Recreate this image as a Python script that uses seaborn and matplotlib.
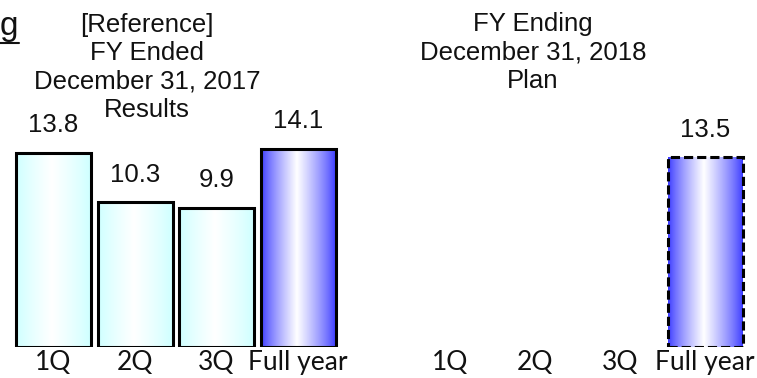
import numpy as np
import pandas as pd
import matplotlib
matplotlib.use("Agg")
import matplotlib.pyplot as plt
from matplotlib.lines import Line2D
import seaborn as sns

# Quarterly figures
categories = ["1Q", "2Q", "3Q", "Full year"]
results_2017 = [13.8, 10.3, 9.9, 14.1]
plan_2018 = [np.nan, np.nan, np.nan, 13.5]

title_2017 = ["[Reference]", "FY Ended", "December 31, 2017", "Results"]
title_2018 = ["FY Ending", "December 31, 2018", "Plan"]

sns.set_style("white")
TEXT_SIZE = 18.5
plt.rcParams["font.family"] = ["Liberation Sans", "DejaVu Sans"]

W, H = 757, 378
fig = plt.figure(figsize=(W / 100, H / 100), dpi=100)

CYAN = np.array([0.80, 1.0, 1.0])
BLUE = np.array([0.22, 0.22, 1.0])
WHITE = np.array([1.0, 1.0, 1.0])


def px_axes(left, bottom, width, height):
    return fig.add_axes([left / W, bottom / H, width / W, height / H])


def gradient_fill(ax, patch, edge_rgb, mid=0.48):
    x0, y0 = patch.get_x(), patch.get_y()
    w, h = patch.get_width(), patch.get_height()
    t = np.linspace(0, 1, 256)
    frac = np.where(t < mid, t / mid, (1 - t) / (1 - mid)) ** 0.8
    cols = edge_rgb[None, :] * (1 - frac[:, None]) + WHITE[None, :] * frac[:, None]
    im = ax.imshow(cols[None, :, :], extent=(x0, x0 + w, y0, y0 + h),
                   aspect="auto", interpolation="bilinear", zorder=1)
    im.set_clip_path(patch)
    patch.set_facecolor("none")
    patch.set_zorder(2)


def draw_panel(ax, values, spacing_px, dashed_last=False):
    df = pd.DataFrame({"period": categories, "value": values})
    bar_w = 75 / spacing_px
    sns.barplot(data=df, x="period", y="value", order=categories, ax=ax,
                width=bar_w, color="white", edgecolor="black", linewidth=2.2,
                errorbar=None)
    bars = [p for p in ax.patches if np.isfinite(p.get_height()) and p.get_height() > 0]
    for p in bars:
        cx = p.get_x() + p.get_width() / 2
        v = p.get_height()
        is_year = abs(cx - 3) < 0.01
        gradient_fill(ax, p, BLUE if is_year else CYAN)
        if dashed_last and is_year:
            p.set_linestyle((0, (3, 1.3)))
        ax.annotate(f"{v:.1f}", (cx, v), xytext=(0, 20), textcoords="offset points",
                    ha="center", va="center", fontsize=TEXT_SIZE, color="#111111")
    ax.set_xlim(-0.5, 3.5)
    ax.set_ylim(0, 20)
    ax.set_xlabel("")
    ax.set_ylabel("")
    ax.set_yticks([])
    ax.tick_params(axis="x", length=0, pad=2.5)
    for lab in ax.get_xticklabels():
        lab.set_fontfamily("Lato")
        lab.set_fontsize(19)
        lab.set_color("#111111")
    for s in ax.spines.values():
        s.set_visible(False)
    ax.patch.set_alpha(0)


# left panel: 2017 results
ax1 = px_axes(12.75, 31, 326, 281)
draw_panel(ax1, results_2017, 81.5)

# right panel: 2018 plan
ax2 = px_axes(705 - 3.5 * 85, 31, 340, 281)
draw_panel(ax2, plan_2018, 85, dashed_last=True)

# panel headings
for txt, yc in zip(title_2017, [25, 52.5, 81, 110]):
    fig.text(147 / W, 1 - yc / H, txt, ha="center", va="center",
             fontsize=TEXT_SIZE, color="#111111")
for txt, yc in zip(title_2018, [24, 52.5, 81]):
    fig.text(533 / W, 1 - yc / H, txt, ha="center", va="center",
             fontsize=TEXT_SIZE, color="#111111")

# tail of the page heading, underlined
fig.text(0 / W, 1 - 26 / H, "g", ha="left", va="center", fontsize=24, color="#111111")
fig.add_artist(Line2D([0, 19 / W], [1 - 43 / H, 1 - 43 / H], color="#111111", lw=1.5))

fig.savefig("out.png", dpi=100)
